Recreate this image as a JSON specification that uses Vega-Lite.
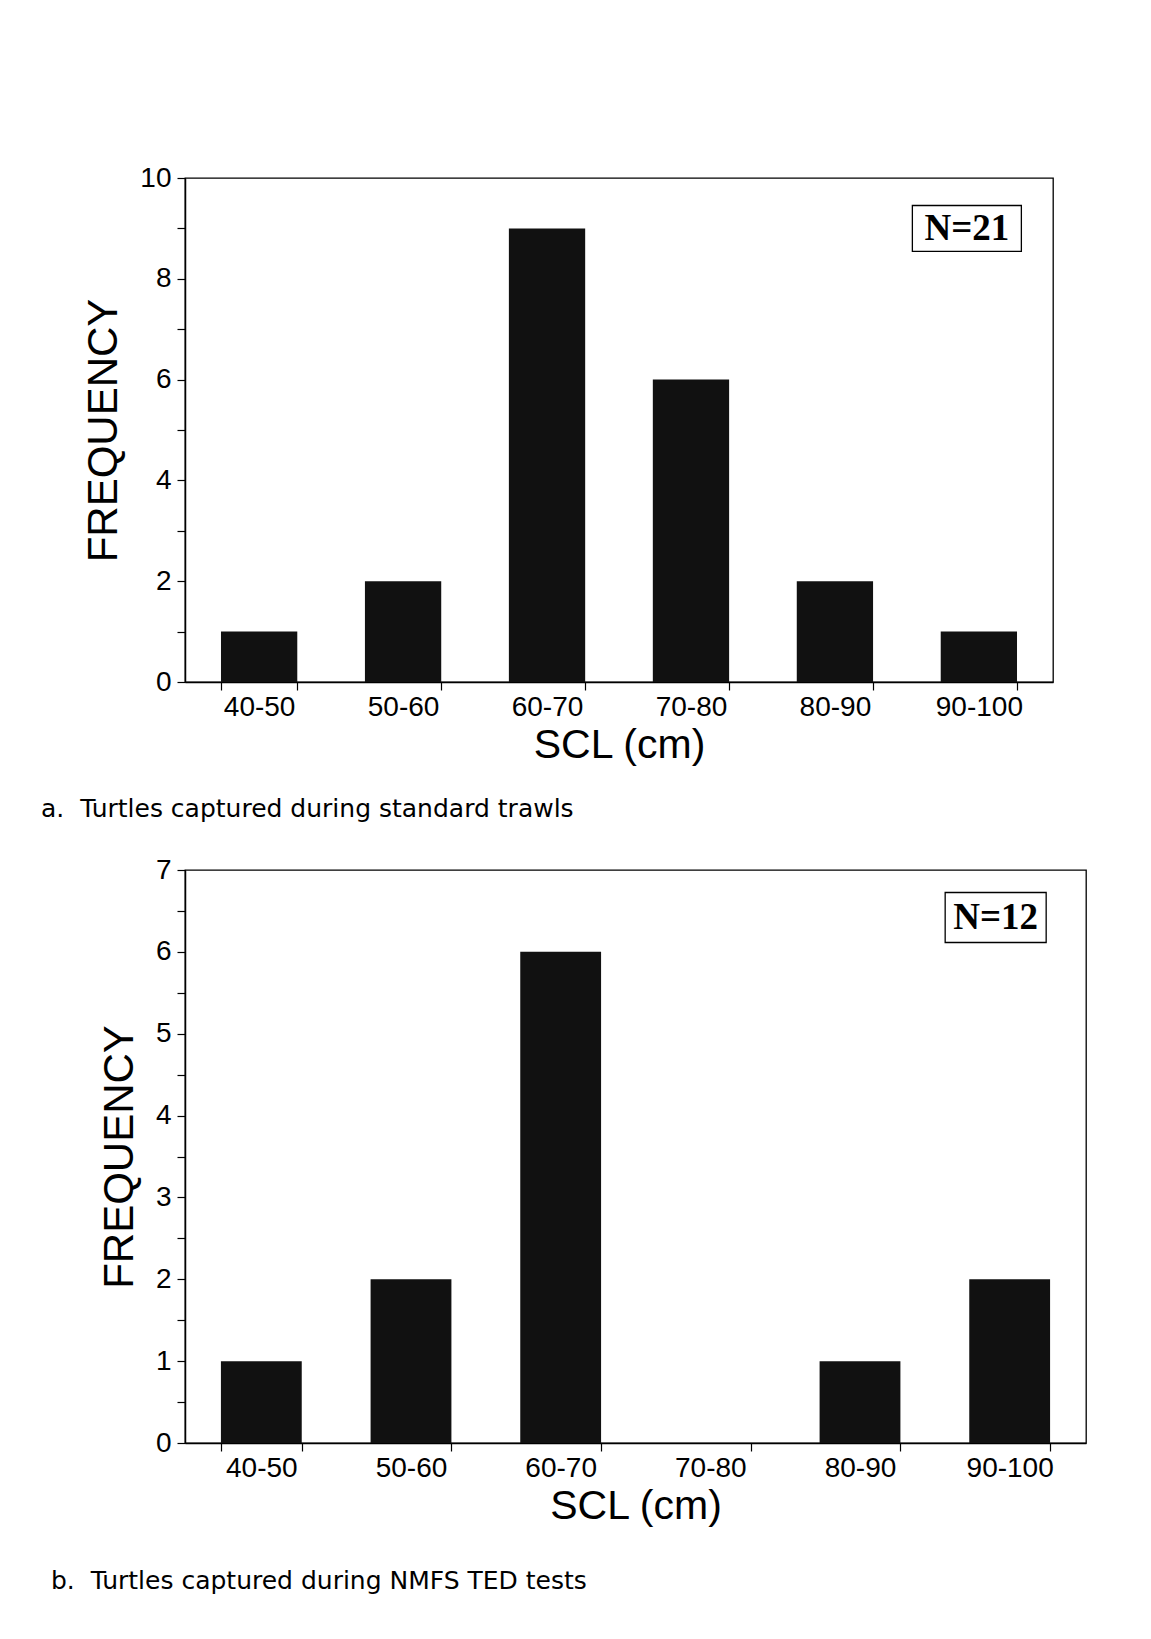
{
  "$schema": "https://vega.github.io/schema/vega-lite/v6.json",
  "background": "white",
  "padding": {"left": 40, "top": 163, "right": 5, "bottom": 5},
  "spacing": 32,
  "datasets": {
    "standard": [
      {"scl": "40-50", "frequency": 1},
      {"scl": "50-60", "frequency": 2},
      {"scl": "60-70", "frequency": 9},
      {"scl": "70-80", "frequency": 6},
      {"scl": "80-90", "frequency": 2},
      {"scl": "90-100", "frequency": 1}
    ],
    "ted": [
      {"scl": "40-50", "frequency": 1},
      {"scl": "50-60", "frequency": 2},
      {"scl": "60-70", "frequency": 6},
      {"scl": "70-80", "frequency": 0},
      {"scl": "80-90", "frequency": 1},
      {"scl": "90-100", "frequency": 2}
    ]
  },
  "config": {
    "view": {"stroke": "black", "strokeWidth": 1.3},
    "font": "Liberation Sans",
    "axis": {
      "domainColor": "black",
      "domainWidth": 1.5,
      "tickColor": "black",
      "tickWidth": 1.2,
      "tickSize": 8,
      "labelColor": "black",
      "labelFont": "Liberation Sans",
      "labelFontSize": 28,
      "titleFont": "Liberation Sans",
      "titleFontSize": 42,
      "titleFontWeight": "normal",
      "titleColor": "black",
      "grid": false
    },
    "axisX": {"titleFontSize": 41, "labelPadding": 3, "titlePadding": 4},
    "title": {"color": "black"}
  },
  "vconcat": [
    {
      "width": 868,
      "height": 504,
      "title": {
        "text": "a.\u00a0 Turtles captured during standard trawls",
        "orient": "bottom",
        "anchor": "start",
        "frame": "group",
        "dx": -144,
        "offset": 32,
        "fontSize": 25,
        "fontWeight": "normal",
        "font": "DejaVu Sans"
      },
      "layer": [
        {
          "data": {"name": "standard"},
          "mark": {"type": "bar", "color": "#111111"},
          "encoding": {
            "x": {
              "field": "scl",
              "type": "nominal",
              "sort": null,
              "scale": {"paddingInner": 0.47, "paddingOuter": 0.25},
              "axis": {"title": "SCL (cm)", "labelAngle": 0, "tickBand": "extent"}
            },
            "y": {
              "field": "frequency",
              "type": "quantitative",
              "scale": {"domain": [0, 10], "nice": false},
              "axis": {
                "title": "FREQUENCY",
                "values": [0, 1, 2, 3, 4, 5, 6, 7, 8, 9, 10],
                "labelExpr": "datum.value % 2 == 0 ? datum.label : ''",
                "labelPadding": 6,
                "titlePadding": 14
              }
            }
          }
        },
        {
          "data": {"values": [{"label": "N=21"}]},
          "mark": {"type": "point", "shape": "M-1,-0.42H1V0.42H-1Z", "filled": false, "stroke": "black", "strokeWidth": 1.3, "size": 11881, "opacity": 1, "xOffset": -12},
          "encoding": {
            "x": {"datum": "90-100"},
            "y": {"datum": 9.0}
          }
        },
        {
          "data": {"values": [{"label": "N=21"}]},
          "mark": {"type": "text", "font": "Liberation Serif", "fontWeight": "bold", "fontSize": 37, "color": "black", "baseline": "middle", "align": "center", "xOffset": -12, "dy": 1},
          "encoding": {
            "x": {"datum": "90-100"},
            "y": {"datum": 9.0},
            "text": {"field": "label"}
          }
        }
      ]
    },
    {
      "width": 901,
      "height": 573,
      "title": {
        "text": "b.\u00a0 Turtles captured during NMFS TED tests",
        "orient": "bottom",
        "anchor": "start",
        "frame": "group",
        "dx": -134,
        "offset": 43,
        "fontSize": 25,
        "fontWeight": "normal",
        "font": "DejaVu Sans"
      },
      "layer": [
        {
          "data": {"name": "ted"},
          "mark": {"type": "bar", "color": "#111111"},
          "encoding": {
            "x": {
              "field": "scl",
              "type": "nominal",
              "sort": null,
              "scale": {"paddingInner": 0.46, "paddingOuter": 0.24},
              "axis": {"title": "SCL (cm)", "labelAngle": 0, "tickBand": "extent"}
            },
            "y": {
              "field": "frequency",
              "type": "quantitative",
              "scale": {"domain": [0, 7], "nice": false},
              "axis": {
                "title": "FREQUENCY",
                "values": [0, 0.5, 1, 1.5, 2, 2.5, 3, 3.5, 4, 4.5, 5, 5.5, 6, 6.5, 7],
                "labelExpr": "datum.value % 1 == 0 ? format(datum.value, 'd') : ''",
                "labelPadding": 6,
                "titlePadding": 14
              }
            }
          }
        },
        {
          "data": {"values": [{"label": "N=12"}]},
          "mark": {"type": "point", "shape": "M-1,-0.495H1V0.495H-1Z", "filled": false, "stroke": "black", "strokeWidth": 1.3, "size": 10201, "opacity": 1, "xOffset": -14},
          "encoding": {
            "x": {"datum": "90-100"},
            "y": {"datum": 6.42}
          }
        },
        {
          "data": {"values": [{"label": "N=12"}]},
          "mark": {"type": "text", "font": "Liberation Serif", "fontWeight": "bold", "fontSize": 37, "color": "black", "baseline": "middle", "align": "center", "xOffset": -14, "dy": 1},
          "encoding": {
            "x": {"datum": "90-100"},
            "y": {"datum": 6.42},
            "text": {"field": "label"}
          }
        }
      ]
    }
  ]
}
